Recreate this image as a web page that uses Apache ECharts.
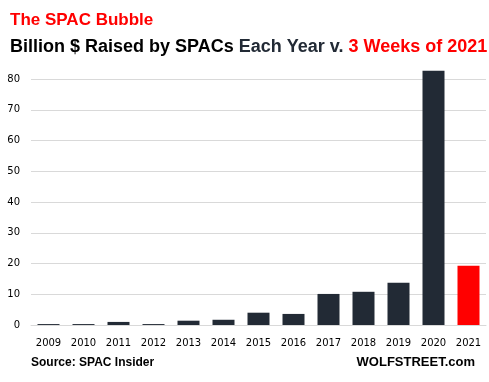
<!DOCTYPE html>
<html>
<head>
<meta charset="utf-8">
<script src="https://cdn.jsdelivr.net/npm/echarts@6/dist/echarts.min.js"></script>
<style>html,body{margin:0;padding:0;background:#fff}#c{width:489px;height:382px}</style>
</head>
<body>
<div id="c"></div>
<script>
const years = ['2009','2010','2011','2012','2013','2014','2015','2016','2017','2018','2019','2020','2021'];
const raised = [0.3, 0.3, 1.0, 0.3, 1.4, 1.7, 4.0, 3.6, 10.1, 10.8, 13.7, 82.7, 19.3];
const highlightYear = '2021';
const yTicks = { min: 0, max: 80, interval: 10 };

const barColor = '#222a35';
const hiColor = '#ff0000';

const chart = echarts.init(document.getElementById('c'), null, { renderer: 'canvas' });
chart.setOption({
  animation: false,
  backgroundColor: '#fff',
  grid: { left: 31, right: 3, top: 79, bottom: 57, containLabel: false },
  xAxis: {
    type: 'category',
    data: years,
    axisLine: { show: true, lineStyle: { color: '#d9d9d9', width: 1 } },
    axisTick: { show: false },
    axisLabel: { color: '#000', fontFamily: 'DejaVu Sans', fontSize: 10, margin: 13, interval: 0 }
  },
  yAxis: {
    type: 'value',
    min: yTicks.min, max: yTicks.max, interval: yTicks.interval,
    axisLine: { show: false },
    axisTick: { show: false },
    splitLine: { lineStyle: { color: '#d9d9d9', width: 1 } },
    axisLabel: { color: '#000', fontFamily: 'DejaVu Sans', fontSize: 10, margin: 11 }
  },
  series: [{
    type: 'bar',
    clip: false,
    barWidth: 22,
    data: raised.map((v, i) => ({
      value: v,
      itemStyle: { color: years[i] === highlightYear ? hiColor : barColor }
    }))
  }],
  graphic: [
    {
      type: 'text', left: 10, top: 12,
      style: { text: 'The SPAC Bubble', font: 'bold 17px "Liberation Sans", Arial, sans-serif', fill: '#ff0000' }
    },
    {
      type: 'text', left: 10, top: 38,
      style: {
        text: '{a|Billion $ Raised by SPACs }{b|Each Year v. }{c|3 Weeks of 2021}',
        rich: {
          a: { fontSize: 18, fontWeight: 'bold', fontFamily: 'Liberation Sans', fill: '#000000' },
          b: { fontSize: 18, fontWeight: 'bold', fontFamily: 'Liberation Sans', fill: '#222a35' },
          c: { fontSize: 18, fontWeight: 'bold', fontFamily: 'Liberation Sans', fill: '#ff0000' }
        }
      }
    },
    {
      type: 'text', left: 31, top: 357,
      style: { text: 'Source: SPAC Insider', font: 'bold 12px "Liberation Sans", Arial, sans-serif', fill: '#000' }
    },
    {
      type: 'text', right: 14, top: 356,
      style: { text: 'WOLFSTREET.com', font: 'bold 13px "Liberation Sans", Arial, sans-serif', fill: '#000' }
    }
  ]
});
</script>
</body>
</html>
